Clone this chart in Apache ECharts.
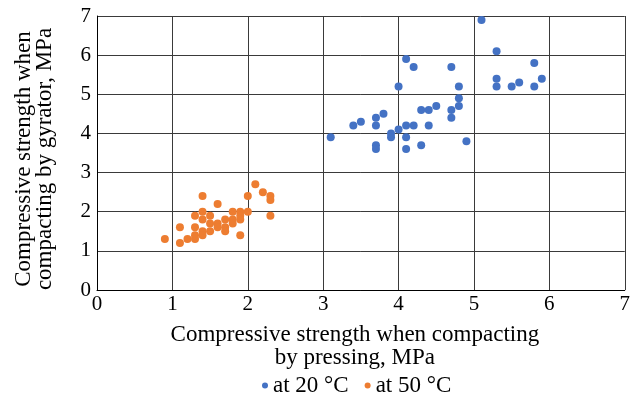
<!DOCTYPE html>
<html>

<head>
  <meta charset="utf-8">
  <style>
    html,
    body {
      width: 100%;
      height: 100%;
      margin: 0;
      padding: 0;
      overflow: hidden;
      background-color: #fff;
    }

    #container {
      width: 633px;
      height: 397px;
      position: absolute;
      top: 0;
      left: 0;
    }
  </style>
</head>

<body>
  <div id="container"></div>

  <script src="https://cdn.jsdelivr.net/npm/echarts@6/dist/echarts.min.js"></script>
  <script>
    // data: [pressing, gyrator] in MPa
    var seriesNames = ['at 20 °C', 'at 50 °C'];
    var xTicks = [0, 1, 2, 3, 4, 5, 6, 7];
    var yTicks = [0, 1, 2, 3, 4, 5, 6, 7];

    var points20 = [
      [5.1, 6.9], [5.3, 6.1], [4.1, 5.9], [4.2, 5.7], [4.7, 5.7], [5.8, 5.8],
      [5.3, 5.4], [5.9, 5.4], [5.3, 5.2], [5.5, 5.2], [5.6, 5.3], [5.8, 5.2],
      [4.0, 5.2], [4.8, 5.2], [4.8, 4.9], [4.8, 4.7], [4.7, 4.6], [4.7, 4.4],
      [4.5, 4.7], [4.3, 4.6], [4.4, 4.6], [3.8, 4.5], [3.7, 4.4], [3.7, 4.2],
      [3.5, 4.3], [3.4, 4.2], [3.1, 3.9], [4.0, 4.1], [4.1, 4.2], [4.2, 4.2],
      [4.4, 4.2], [3.9, 4.0], [3.9, 3.9], [4.1, 3.9], [3.7, 3.7], [3.7, 3.6],
      [4.1, 3.6], [4.3, 3.7], [4.9, 3.8]
    ];

    var points50 = [
      [1.4, 2.4], [1.6, 2.2], [2.1, 2.7], [2.2, 2.5], [2.3, 2.4], [2.3, 2.3],
      [2.0, 2.4], [2.3, 1.9], [2.0, 2.0], [1.9, 2.0], [1.8, 2.0], [1.9, 1.9],
      [1.9, 1.8], [1.8, 1.8], [1.8, 1.7], [1.7, 1.8], [1.7, 1.6], [1.7, 1.5],
      [1.6, 1.7], [1.6, 1.6], [1.5, 1.9], [1.5, 1.7], [1.5, 1.5], [1.4, 2.0],
      [1.4, 1.8], [1.4, 1.5], [1.4, 1.4], [1.3, 1.9], [1.3, 1.6], [1.3, 1.4],
      [1.3, 1.3], [1.2, 1.3], [1.1, 1.2], [1.1, 1.6], [0.9, 1.3], [1.9, 1.4]
    ];

    var chart = echarts.init(document.getElementById('container'));

    var font = '"Liberation Serif", "Times New Roman", serif';
    var gridLine = { show: true, lineStyle: { color: '#3a3a3a', width: 1 } };

    chart.setOption({
      animation: false,
      textStyle: { fontFamily: font },
      grid: { left: 97, right: 7, top: 16, bottom: 107 },
      legend: {
        data: seriesNames,
        top: 369,
        left: 257,
        itemWidth: 6,
        itemHeight: 6,
        itemGap: 16,
        icon: 'circle',
        textStyle: { fontFamily: font, fontSize: 23, color: '#000' }
      },
      xAxis: {
        type: 'value',
        min: xTicks[0],
        max: xTicks[xTicks.length - 1],
        interval: 1,
        name: 'Compressive strength when compacting\nby pressing, MPa',
        nameLocation: 'middle',
        nameGap: 33,
        nameTextStyle: { fontFamily: font, fontSize: 23, color: '#000', lineHeight: 23, padding: [0, 12, 0, 0] },
        axisLine: { show: true, onZero: false, lineStyle: { color: '#000', width: 1 } },
        axisTick: { show: false },
        axisLabel: { fontFamily: font, fontSize: 21, color: '#000', margin: 4 },
        splitLine: gridLine
      },
      yAxis: {
        type: 'value',
        min: yTicks[0],
        max: yTicks[yTicks.length - 1],
        interval: 1,
        name: 'Compressive strength when\ncompacting by gyrator, MPa',
        nameLocation: 'middle',
        nameGap: 42,
        nameTextStyle: { fontFamily: font, fontSize: 23, color: '#000', lineHeight: 21, padding: [0, 12, 0, 0] },
        axisLine: { show: true, onZero: false, lineStyle: { color: '#000', width: 1 } },
        axisTick: { show: false },
        axisLabel: { fontFamily: font, fontSize: 21, color: '#000', margin: 6 },
        splitLine: gridLine
      },
      series: [
        {
          name: seriesNames[0],
          type: 'scatter',
          symbolSize: 8,
          itemStyle: { color: '#4472C4', opacity: 1 },
          data: points20
        },
        {
          name: seriesNames[1],
          type: 'scatter',
          symbolSize: 8,
          itemStyle: { color: '#ED7D31', opacity: 1 },
          data: points50
        }
      ]
    });
  </script>
</body>

</html>
